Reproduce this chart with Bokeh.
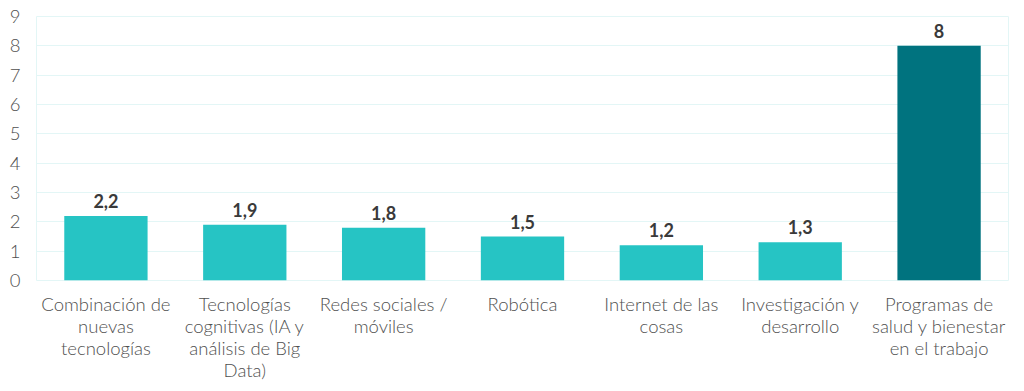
from bokeh.plotting import figure
from bokeh.models import ColumnDataSource, FixedTicker, LabelSet
from bokeh.core.properties import value
from bokeh.embed import file_html
from bokeh.resources import INLINE

labels = [
    "Combinación de\nnuevas\ntecnologías",
    "Tecnologías\ncognitivas (IA y\nanálisis de Big\nData)",
    "Redes sociales /\nmóviles",
    "Robótica",
    "Internet de las\ncosas",
    "Investigación y\ndesarrollo",
    "Programas de\nsalud y bienestar\nen el trabajo",
]
values = [2.2, 1.9, 1.8, 1.5, 1.2, 1.3, 8]
value_text = ["2,2", "1,9", "1,8", "1,5", "1,2", "1,3", "8"]
colors = ["#26c4c4"] * 6 + ["#00737f"]

src = ColumnDataSource(dict(k=labels, v=values, t=value_text, c=colors))

p = figure(x_range=labels, y_range=(0, 9), width=1012, height=383,
           output_backend="svg", toolbar_location=None,
           min_border_left=36, min_border_right=4, min_border_top=16, min_border_bottom=100)
p.vbar(x="k", top="v", width=0.6, source=src, fill_color="c", line_color=None)

lbl = LabelSet(x="k", y="v", text="t", source=src, text_align="center", text_baseline="bottom",
               y_offset=8, text_font=value("Lato"), text_font_style="bold", text_font_size="18px",
               text_color="#3a3a3a")
p.add_layout(lbl)

p.yaxis.ticker = FixedTicker(ticks=list(range(10)))
p.ygrid.ticker = FixedTicker(ticks=list(range(10)))
p.xgrid.grid_line_color = None
p.ygrid.grid_line_color = "#e3f6f6"
p.outline_line_color = "#e3f6f6"
p.axis.axis_line_color = None
p.axis.major_tick_line_color = None
p.axis.minor_tick_line_color = None
p.axis.major_label_text_font = "Lato Light"
p.axis.major_label_text_font_size = "18.5px"
p.axis.major_label_text_color = "#505050"
p.xaxis.major_label_text_line_height = 1.0
p.yaxis.major_label_standoff = 10
p.xaxis.major_label_standoff = 6
p.background_fill_color = "white"

open("out.html", "w").write(file_html(p, INLINE))
